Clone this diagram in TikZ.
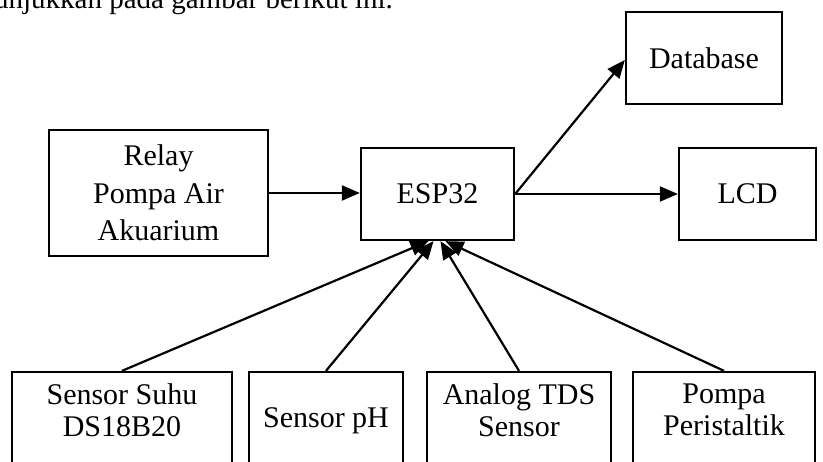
\documentclass[tikz,border=0pt]{standalone}
\usepackage{fontspec}
\setmainfont{Liberation Serif}
\usetikzlibrary{arrows.meta,calc}
\begin{document}
\begin{tikzpicture}[x=1pt,y=-1pt,
  box/.style={draw=black,line width=2.3pt,fill=white,rectangle,inner sep=0pt,
    align=center,font=\fontsize{30}{37.5}\selectfont},
  lbl/.style={inner sep=0pt,align=center,font=\fontsize{30}{32}\selectfont},
  link/.style={line width=2.2pt,-{Triangle[length=18pt,width=15pt]}},
]
\useasboundingbox (0,0) rectangle (823,462);

% running text of the page above the block diagram
\node[anchor=base east,inner sep=0pt,font=\fontsize{29}{30}\selectfont] (cap)
  at (393,9) {ditunjukkan pada gambar berikut ini.};

% upper row
\node[box,minimum width=156pt,minimum height=92pt] (db) at (704,58) {Database};
\node[box,minimum width=219pt,minimum height=126pt] (relay) at (158.5,193)
  {Relay\\Pompa Air\\Akuarium};
\node[box,minimum width=153pt,minimum height=92pt] (esp) at (437.5,194) {ESP32};
\node[box,minimum width=137pt,minimum height=92pt] (lcd) at (747.5,194) {LCD};

% lower row (boxes run past the lower edge)
\node[box,minimum width=220pt,minimum height=108pt] (b1) at (122,426) {};
\node[box,minimum width=154pt,minimum height=108pt] (b2) at (326,426) {};
\node[box,minimum width=184pt,minimum height=108pt] (b3) at (519,426) {};
\node[box,minimum width=182pt,minimum height=108pt] (b4) at (724,426) {};
\node[lbl] (t1) at (122,410) {Sensor Suhu\\DS18B20};
\node[lbl,anchor=base] (t2) at (326,428) {Sensor pH};
\node[lbl] (t3) at (519,410) {Analog TDS\\Sensor};
\node[lbl] (t4) at (724,410) {Pompa\\Peristaltik};

% connectors
\draw[link] (relay.east) -- (relay.east -| esp.west);
\draw[link] (esp.east) -- (lcd.west);
\draw[link] (esp.east) -- ($(db.west)+(0,2)$);
\draw[link] (b1.north) -- ($(esp.south)+(-9,0)$);
\draw[link] (b2.north) -- ($(esp.south)+(-4,0)$);
\draw[link] (b3.north) -- ($(esp.south)+(3,0)$);
\draw[link] (b4.north) -- ($(esp.south)+(8,0)$);
\end{tikzpicture}
\end{document}
